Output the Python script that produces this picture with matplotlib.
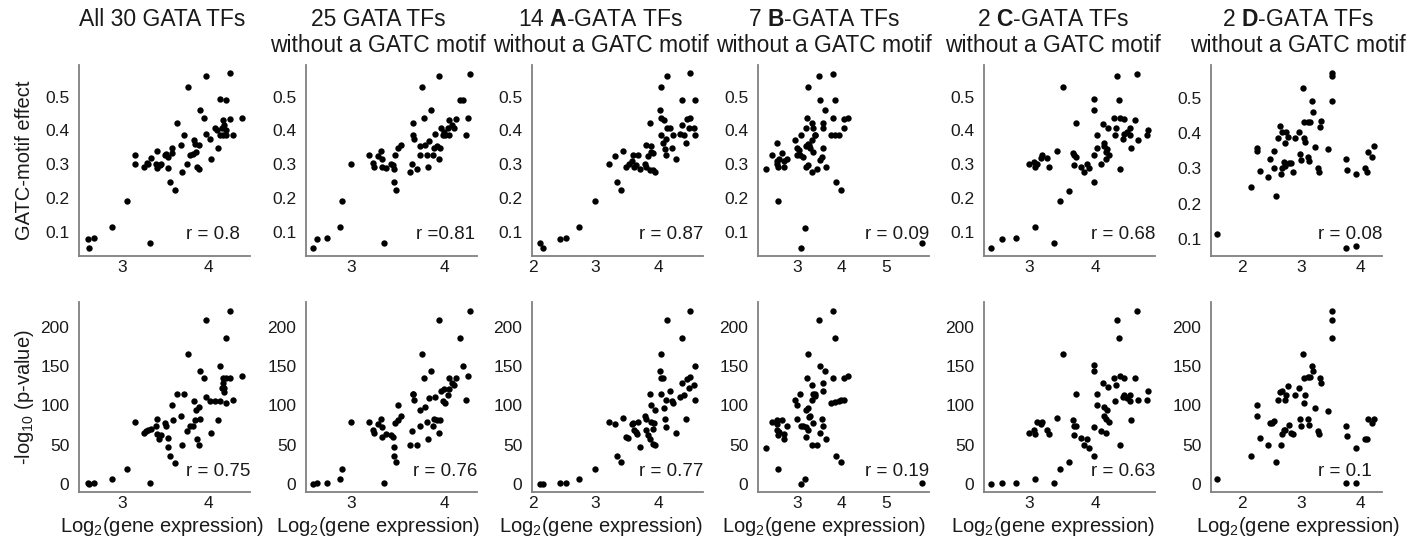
import matplotlib
matplotlib.use("Agg")
import matplotlib.pyplot as plt

plt.rcParams["font.family"] = ["Liberation Sans", "DejaVu Sans"]
plt.rcParams["mathtext.fontset"] = "custom"
plt.rcParams["mathtext.rm"] = "Liberation Sans"
plt.rcParams["mathtext.bf"] = "Liberation Sans:bold"
plt.rcParams["mathtext.it"] = "Liberation Sans:italic"

# ---- top row: GATC-motif effect vs log2 expression --------------------------
all_x = [2.59, 2.61, 2.67, 2.88, 3.05, 3.32, 3.14, 3.14, 3.25, 3.28, 3.30, 3.33,
         3.40, 3.39, 3.40, 3.44, 3.45, 3.49, 3.51, 3.53, 3.53, 3.55, 3.58, 3.58,
         3.61, 3.64, 3.68, 3.70, 3.72, 3.75, 3.77, 3.79, 3.82, 3.84, 3.85, 3.86,
         3.87, 3.89, 3.89, 3.90, 3.95, 3.97, 3.97, 4.02, 4.03, 4.08, 4.10, 4.12,
         4.14, 4.14, 4.16, 4.18, 4.18, 4.19, 4.21, 4.21, 4.21, 4.26, 4.26, 4.29,
         4.40]
all_eff = [0.077, 0.053, 0.080, 0.114, 0.192, 0.067, 0.327, 0.300, 0.291, 0.305, 0.300, 0.317,
           0.339, 0.302, 0.290, 0.297, 0.300, 0.327, 0.330, 0.322, 0.290, 0.247, 0.332, 0.347,
           0.223, 0.421, 0.357, 0.278, 0.386, 0.302, 0.528, 0.327, 0.329, 0.372, 0.359, 0.337,
           0.293, 0.285, 0.357, 0.460, 0.436, 0.391, 0.562, 0.374, 0.314, 0.406, 0.400, 0.349,
           0.386, 0.492, 0.406, 0.431, 0.386, 0.416, 0.490, 0.386, 0.400, 0.569, 0.433, 0.386,
           0.436]

nogatc_x = [2.59, 2.64, 2.74, 2.88, 2.90, 3.00, 3.19, 3.24, 3.25, 3.29, 3.32, 3.33,
            3.33, 3.35, 3.38, 3.43, 3.45, 3.46, 3.46, 3.47, 3.48, 3.50, 3.54, 3.63,
            3.65, 3.66, 3.67, 3.68, 3.71, 3.74, 3.74, 3.76, 3.78, 3.79, 3.82, 3.83,
            3.84, 3.86, 3.88, 3.89, 3.90, 3.92, 3.94, 3.94, 3.95, 3.97, 3.99, 4.00,
            4.01, 4.04, 4.05, 4.05, 4.08, 4.10, 4.13, 4.17, 4.20, 4.23, 4.25, 4.27]
nogatc_eff = [0.053, 0.077, 0.080, 0.114, 0.192, 0.300, 0.327, 0.305, 0.291, 0.324, 0.339, 0.316,
              0.293, 0.067, 0.290, 0.302, 0.297, 0.248, 0.285, 0.327, 0.223, 0.347, 0.357, 0.278,
              0.302, 0.421, 0.386, 0.374, 0.285, 0.326, 0.355, 0.528, 0.436, 0.357, 0.327, 0.293,
              0.369, 0.460, 0.327, 0.347, 0.390, 0.355, 0.562, 0.314, 0.349, 0.406, 0.388, 0.396,
              0.386, 0.406, 0.386, 0.431, 0.416, 0.406, 0.433, 0.490, 0.490, 0.386, 0.436, 0.567]

a_x = [2.11, 2.16, 2.43, 2.53, 2.73, 2.99, 3.22, 3.31, 3.34, 3.40, 3.44, 3.49,
       3.54, 3.58, 3.60, 3.61, 3.64, 3.68, 3.70, 3.78, 3.80, 3.81, 3.84, 3.86,
       3.87, 3.88, 3.89, 3.91, 3.92, 3.95, 4.04, 4.03, 4.04, 4.04, 4.09, 4.08,
       4.11, 4.12, 4.12, 4.13, 4.14, 4.19, 4.21, 4.23, 4.28, 4.34, 4.37, 4.38,
       4.41, 4.44, 4.46, 4.48, 4.50, 4.50, 4.56, 4.58, 4.58]
a_eff = [0.067, 0.053, 0.077, 0.080, 0.114, 0.192, 0.300, 0.325, 0.248, 0.223, 0.339, 0.293,
         0.302, 0.309, 0.327, 0.291, 0.297, 0.327, 0.285, 0.302, 0.357, 0.293, 0.325, 0.421,
         0.283, 0.337, 0.355, 0.283, 0.332, 0.278, 0.528, 0.460, 0.436, 0.386, 0.430, 0.362,
         0.345, 0.327, 0.374, 0.562, 0.406, 0.406, 0.349, 0.386, 0.314, 0.389, 0.416, 0.490,
         0.386, 0.362, 0.433, 0.406, 0.436, 0.569, 0.406, 0.490, 0.386]

b_x = [2.30, 2.45, 2.55, 2.55, 2.55, 2.57, 2.59, 2.60, 2.66, 2.72, 2.72, 2.79,
       2.97, 3.00, 3.01, 3.04, 3.07, 3.09, 3.09, 3.15, 3.19, 3.21, 3.21, 3.21,
       3.24, 3.25, 3.26, 3.26, 3.28, 3.30, 3.34, 3.34, 3.35, 3.37, 3.37, 3.40,
       3.41, 3.46, 3.50, 3.52, 3.52, 3.56, 3.58, 3.58, 3.58, 3.64, 3.65, 3.76,
       3.82, 3.82, 3.86, 3.86, 3.88, 3.94, 4.00, 4.05, 4.06, 4.16, 5.81]
b_eff = [0.285, 0.327, 0.362, 0.309, 0.300, 0.291, 0.192, 0.316, 0.332, 0.309, 0.291, 0.314,
         0.372, 0.327, 0.347, 0.342, 0.327, 0.386, 0.053, 0.322, 0.112, 0.406, 0.355, 0.293,
         0.436, 0.528, 0.359, 0.299, 0.357, 0.347, 0.372, 0.278, 0.421, 0.406, 0.337, 0.386,
         0.388, 0.285, 0.562, 0.490, 0.313, 0.322, 0.406, 0.347, 0.421, 0.460, 0.291, 0.386,
         0.567, 0.436, 0.490, 0.386, 0.248, 0.386, 0.223, 0.406, 0.433, 0.436, 0.067]

c_x = [2.44, 2.60, 2.81, 3.00, 3.08, 3.09, 3.10, 3.13, 3.19, 3.20, 3.28, 3.30,
       3.38, 3.42, 3.47, 3.52, 3.60, 3.66, 3.67, 3.68, 3.70, 3.71, 3.78, 3.82,
       3.87, 3.90, 3.97, 3.97, 3.98, 3.98, 4.02, 4.02, 4.08, 4.11, 4.12, 4.13,
       4.15, 4.16, 4.17, 4.19, 4.20, 4.27, 4.29, 4.31, 4.32, 4.35, 4.37, 4.37,
       4.41, 4.42, 4.43, 4.47, 4.51, 4.52, 4.53, 4.59, 4.62, 4.63, 4.77, 4.78]
c_eff = [0.053, 0.077, 0.080, 0.300, 0.307, 0.293, 0.114, 0.302, 0.317, 0.327, 0.317, 0.291,
         0.067, 0.340, 0.192, 0.528, 0.221, 0.334, 0.327, 0.297, 0.421, 0.322, 0.293, 0.278,
         0.302, 0.288, 0.248, 0.460, 0.327, 0.492, 0.386, 0.347, 0.300, 0.418, 0.362, 0.355,
         0.337, 0.314, 0.345, 0.406, 0.327, 0.436, 0.386, 0.408, 0.562, 0.490, 0.436, 0.285,
         0.375, 0.433, 0.389, 0.396, 0.386, 0.406, 0.347, 0.431, 0.567, 0.372, 0.386, 0.401]

d_x = [1.58, 2.14, 2.25, 2.25, 2.30, 2.44, 2.47, 2.53, 2.53, 2.58, 2.60, 2.64,
       2.66, 2.67, 2.68, 2.71, 2.72, 2.73, 2.75, 2.78, 2.79, 2.82, 2.86, 2.90,
       2.96, 2.98, 3.00, 3.03, 3.04, 3.05, 3.07, 3.11, 3.12, 3.14, 3.15, 3.18,
       3.20, 3.23, 3.29, 3.31, 3.32, 3.33, 3.46, 3.52, 3.52, 3.52, 3.76, 3.78,
       3.76, 3.93, 3.93, 4.09, 4.11, 4.14, 4.20, 4.24]
d_eff = [0.114, 0.247, 0.357, 0.348, 0.293, 0.277, 0.327, 0.348, 0.300, 0.222, 0.387, 0.421,
         0.284, 0.300, 0.402, 0.317, 0.373, 0.308, 0.404, 0.390, 0.315, 0.315, 0.291, 0.387,
         0.402, 0.340, 0.323, 0.526, 0.387, 0.432, 0.374, 0.333, 0.432, 0.322, 0.432, 0.491,
         0.459, 0.360, 0.300, 0.291, 0.418, 0.434, 0.354, 0.562, 0.569, 0.489, 0.326, 0.296,
         0.076, 0.284, 0.080, 0.300, 0.291, 0.346, 0.333, 0.363]

# ---- bottom row: -log10(p-value) vs log2 expression -------------------------
all_xp = [2.59, 2.61, 2.67, 2.88, 3.05, 3.32, 3.14, 3.25, 3.27, 3.30, 3.33, 3.40,
          3.39, 3.40, 3.42, 3.45, 3.49, 3.51, 3.53, 3.53, 3.55, 3.58, 3.59, 3.61,
          3.64, 3.68, 3.70, 3.72, 3.75, 3.77, 3.79, 3.82, 3.84, 3.85, 3.86, 3.87,
          3.89, 3.89, 3.90, 3.91, 3.95, 3.97, 3.97, 4.02, 4.03, 4.08, 4.12, 4.14,
          4.14, 4.16, 4.18, 4.18, 4.19, 4.19, 4.21, 4.21, 4.21, 4.26, 4.26, 4.29,
          4.40]
all_logp = [1, 0, 1, 6, 19, 1, 79, 65, 67, 69, 70, 83,
            74, 64, 57, 62, 77, 74, 58, 47, 35, 100, 82, 27,
            114, 86, 50, 114, 67, 165, 74, 74, 106, 82, 94, 57,
            50, 98, 144, 83, 135, 111, 209, 106, 65, 106, 81, 106,
            150, 122, 135, 128, 117, 122, 186, 103, 135, 221, 135, 107,
            137]

nogatc_xp = [2.59, 2.64, 2.74, 2.88, 2.90, 3.00, 3.19, 3.24, 3.25, 3.29, 3.32, 3.33,
             3.33, 3.35, 3.38, 3.43, 3.45, 3.46, 3.46, 3.47, 3.48, 3.50, 3.50, 3.54,
             3.63, 3.65, 3.66, 3.67, 3.68, 3.71, 3.74, 3.74, 3.76, 3.78, 3.79, 3.82,
             3.83, 3.84, 3.86, 3.88, 3.89, 3.90, 3.92, 3.94, 3.94, 3.95, 3.97, 3.99,
             4.00, 4.01, 4.04, 4.05, 4.05, 4.08, 4.10, 4.13, 4.17, 4.20, 4.23, 4.25,
             4.27]
nogatc_logp = [0, 1, 1, 6, 19, 79, 79, 68, 65, 76, 83, 72,
               60, 1, 64, 62, 60, 47, 36, 77, 28, 100, 82, 86,
               50, 67, 114, 114, 107, 50, 74, 94, 166, 135, 98, 79,
               57, 109, 144, 74, 83, 111, 82, 209, 65, 81, 119, 106,
               121, 103, 113, 121, 135, 128, 126, 135, 186, 150, 107, 137,
               221]

a_xp = [2.11, 2.16, 2.43, 2.53, 2.73, 2.99, 3.22, 3.31, 3.34, 3.40, 3.44, 3.49,
        3.51, 3.58, 3.60, 3.61, 3.64, 3.66, 3.68, 3.70, 3.78, 3.80, 3.81, 3.84,
        3.86, 3.87, 3.88, 3.89, 3.91, 3.92, 3.93, 3.95, 3.94, 4.04, 4.03, 4.04,
        4.04, 4.09, 4.08, 4.11, 4.12, 4.12, 4.13, 4.19, 4.21, 4.23, 4.28, 4.34,
        4.37, 4.38, 4.41, 4.44, 4.46, 4.48, 4.50, 4.50, 4.56, 4.58, 4.58]
a_logp = [0, 0, 1, 1, 6, 19, 79, 76, 35, 28, 84, 60,
          58, 76, 77, 68, 66, 64, 79, 47, 86, 83, 68, 62,
          114, 57, 100, 79, 51, 70, 77, 49, 94, 166, 144, 114,
          135, 97, 135, 83, 73, 107, 209, 119, 106, 103, 65, 111,
          128, 186, 113, 83, 134, 122, 136, 221, 126, 150, 107]

b_xp = [2.30, 2.45, 2.55, 2.55, 2.55, 2.57, 2.59, 2.60, 2.66, 2.72, 2.72, 2.79,
        2.97, 3.00, 3.01, 3.07, 3.09, 3.09, 3.15, 3.19, 3.21, 3.21, 3.21, 3.24,
        3.25, 3.26, 3.26, 3.28, 3.30, 3.34, 3.34, 3.35, 3.37, 3.37, 3.40, 3.41,
        3.46, 3.50, 3.52, 3.52, 3.56, 3.58, 3.58, 3.58, 3.64, 3.65, 3.76, 3.82,
        3.82, 3.86, 3.86, 3.88, 3.94, 3.99, 4.00, 4.05, 4.06, 4.16, 5.81]
b_logp = [46, 79, 82, 76, 69, 62, 19, 66, 82, 64, 57, 74,
          107, 83, 100, 114, 74, 0, 74, 6, 94, 72, 60, 135,
          166, 97, 68, 85, 86, 107, 50, 126, 114, 77, 112, 114,
          50, 209, 150, 65, 83, 118, 74, 128, 144, 57, 103, 221,
          135, 186, 104, 35, 106, 107, 28, 107, 135, 137, 1]

c_xp = [2.44, 2.60, 2.81, 3.00, 3.08, 3.09, 3.10, 3.13, 3.19, 3.20, 3.28, 3.30,
        3.38, 3.42, 3.47, 3.52, 3.60, 3.66, 3.67, 3.68, 3.70, 3.71, 3.78, 3.82,
        3.87, 3.90, 3.97, 3.97, 3.98, 3.98, 4.02, 4.02, 4.08, 4.11, 4.12, 4.13,
        4.15, 4.16, 4.17, 4.19, 4.20, 4.27, 4.29, 4.31, 4.32, 4.35, 4.37, 4.37,
        4.41, 4.42, 4.43, 4.47, 4.51, 4.52, 4.53, 4.59, 4.62, 4.63, 4.77, 4.78]
c_logp = [0, 1, 1, 65, 68, 64, 6, 79, 76, 79, 69, 63,
          1, 84, 19, 166, 28, 82, 74, 62, 114, 74, 59, 50,
          57, 46, 35, 144, 73, 151, 114, 100, 67, 128, 98, 86,
          83, 65, 94, 123, 79, 135, 106, 126, 209, 186, 137, 50,
          111, 135, 113, 109, 106, 113, 81, 135, 221, 107, 107, 119]

d_xp = [1.58, 2.14, 2.25, 2.25, 2.30, 2.44, 2.47, 2.50, 2.53, 2.58, 2.60, 2.64,
        2.66, 2.67, 2.68, 2.71, 2.72, 2.73, 2.75, 2.78, 2.79, 2.82, 2.86, 2.90,
        2.96, 2.98, 3.00, 3.03, 3.04, 3.05, 3.07, 3.11, 3.12, 3.14, 3.15, 3.18,
        3.20, 3.23, 3.29, 3.31, 3.32, 3.33, 3.46, 3.52, 3.52, 3.52, 3.76, 3.78,
        3.76, 3.93, 3.93, 4.09, 4.11, 4.14, 4.20, 4.24]
d_logp = [6, 35, 100, 86, 59, 50, 77, 78, 80, 28, 107, 117,
          50, 64, 119, 69, 107, 69, 113, 125, 75, 65, 64, 113,
          122, 83, 74, 165, 135, 103, 113, 83, 136, 75, 136, 150,
          144, 97, 67, 64, 135, 128, 93, 221, 209, 186, 74, 61,
          1, 46, 1, 57, 57, 83, 78, 83]

titles = [["All 30 GATA TFs"],
          ["25 GATA TFs", "without a GATC motif"],
          [r"14 $\mathbf{A}$-GATA TFs", "without a GATC motif"],
          [r"7 $\mathbf{B}$-GATA TFs", "without a GATC motif"],
          [r"2 $\mathbf{C}$-GATA TFs", "without a GATC motif"],
          [r"2 $\mathbf{D}$-GATA TFs", "without a GATC motif"]]
r_top = ["r = 0.8", "r =0.81", "r = 0.87", "r = 0.09", "r = 0.68", "r = 0.08"]
r_bot = ["r = 0.75", "r = 0.76", "r = 0.77", "r = 0.19", "r = 0.63", "r = 0.1"]
xticks = [[3, 4], [3, 4], [2, 3, 4], [3, 4, 5], [3, 4], [2, 3, 4]]

top_data = [(all_x, all_eff), (nogatc_x, nogatc_eff), (a_x, a_eff),
            (b_x, b_eff), (c_x, c_eff), (d_x, d_eff)]
bot_data = [(all_xp, all_logp), (nogatc_xp, nogatc_logp), (a_xp, a_logp),
            (b_xp, b_logp), (c_xp, c_logp), (d_xp, d_logp)]

# layout (pixel geometry of the original figure)
W, H = 1416, 543
lefts = [79, 306, 532, 758, 984, 1211]
AX_W = 171
xlims = [(2.49, 4.49), (2.52, 4.35), (1.99, 4.71), (2.13, 5.97), (2.33, 4.89), (1.47, 4.37)]
ylims_top = [(0.028, 0.594)] * 5 + [(0.053, 0.592)]
title_cx = [162, 378, 601, 824, 1053, 1298]
r_top_x = [0.94, 0.99, 1.0, 1.0, 1.0, 1.0]
r_bot_x = [1.0, 1.0, 1.0, 1.0, 1.0, 0.94]

SPINE = "#808080"
TXT = "#1a1a1a"

fig = plt.figure(figsize=(W / 100, H / 100), dpi=100)


def style(ax):
    for s in ["top", "right"]:
        ax.spines[s].set_visible(False)
    for s in ["left", "bottom"]:
        ax.spines[s].set_color(SPINE)
        ax.spines[s].set_linewidth(1.3)
    ax.tick_params(length=0, labelsize=12.5, colors=TXT)
    ax.tick_params(axis="y", pad=7)
    ax.tick_params(axis="x", pad=3)


for i in range(6):
    x0 = lefts[i] / W
    w = AX_W / W

    ax = fig.add_axes([x0, 1 - 256 / H, w, 191 / H])
    ax.scatter(*top_data[i], s=21, color="black", linewidths=0, clip_on=False)
    ax.set_xlim(*xlims[i])
    ax.set_ylim(*ylims_top[i])
    ax.set_xticks(xticks[i])
    ax.set_yticks([0.1, 0.2, 0.3, 0.4, 0.5])
    ax.set_yticklabels(["0.1", "0.2", "0.3", "0.4", "0.5"])
    style(ax)
    ax.text(r_top_x[i], 0.11, r_top[i], transform=ax.transAxes, ha="right",
            va="center", fontsize=13.5, color=TXT)

    ax = fig.add_axes([x0, 1 - 492 / H, w, 190 / H])
    ax.scatter(*bot_data[i], s=21, color="black", linewidths=0, clip_on=False)
    ax.set_xlim(*xlims[i])
    ax.set_ylim(-10.5, 232)
    ax.set_xticks(xticks[i])
    ax.set_yticks([0, 50, 100, 150, 200])
    style(ax)
    ax.text(r_bot_x[i], 0.107, r_bot[i], transform=ax.transAxes, ha="right",
            va="center", fontsize=13.5, color=TXT)

    cx = title_cx[i] / W
    for k, line in enumerate(titles[i]):
        fig.text(cx, 1 - (20 + 25 * k) / H, line, ha="center", va="center",
                 fontsize=16.5, color=TXT)
    fig.text(cx, 1 - 527 / H, r"Log$_2$(gene expression)", ha="center",
             va="center", fontsize=14.5, color=TXT)

fig.text(25 / W, 1 - 160 / H, "GATC-motif effect", rotation=90, ha="center",
         va="center", fontsize=14.5, color=TXT)
fig.text(25 / W, 1 - 397 / H, r"-log$_{10}$ (p-value)", rotation=90, ha="center",
         va="center", fontsize=14.5, color=TXT)

fig.savefig("out.png", dpi=100)
